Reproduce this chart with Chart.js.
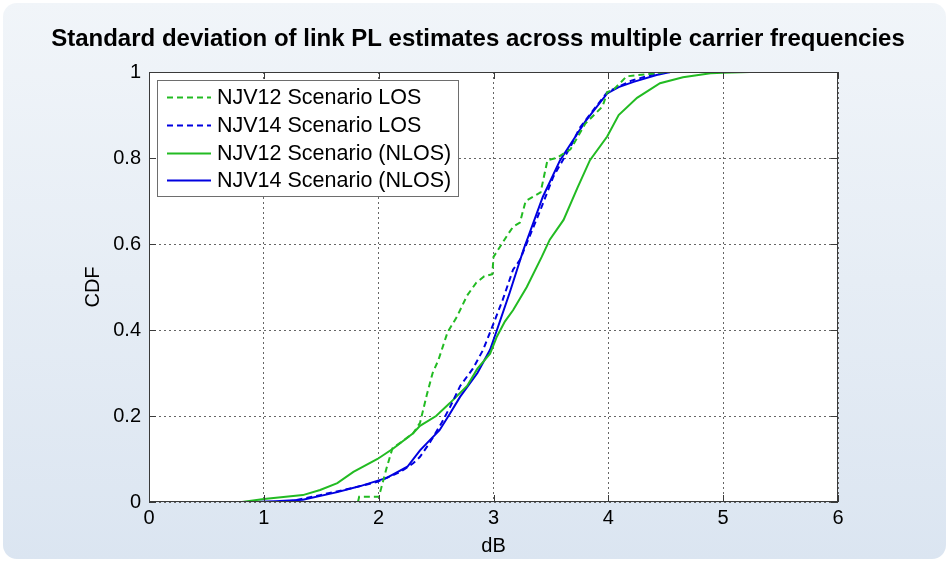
<!DOCTYPE html>
<html>
<head>
<meta charset="utf-8">
<script src="https://cdn.jsdelivr.net/npm/chart.js@4.4.1/dist/chart.umd.min.js"></script>
<style>
  html, body { margin: 0; padding: 0; background: #fff; }
  canvas { display: block; }
</style>
</head>
<body>
<canvas class="js-chart" width="949" height="562"></canvas>
<script>
const context = document.querySelector('.js-chart').getContext('2d');

const TITLE = 'Standard deviation of link PL estimates across multiple carrier frequencies';
const X_TICKS = [0, 1, 2, 3, 4, 5, 6];
const Y_TICKS = ['0', '0.2', '0.4', '0.6', '0.8', '1'];

// NJV12 Scenario LOS (green dashed)
const los12X = [1.82, 1.83, 2.0, 2.02, 2.07, 2.12, 2.2, 2.3, 2.36, 2.42, 2.47, 2.52, 2.6, 2.68, 2.77, 2.85, 2.92, 2.99, 3.0, 3.12, 3.17, 3.23, 3.28, 3.41, 3.47, 3.55, 3.67, 3.8, 3.95, 3.99, 4.05, 4.16, 4.45, 4.5];
const los12Y = [0, 0.012, 0.012, 0.03, 0.08, 0.125, 0.14, 0.16, 0.184, 0.25, 0.3, 0.33, 0.395, 0.43, 0.48, 0.51, 0.525, 0.53, 0.57, 0.62, 0.64, 0.65, 0.7, 0.72, 0.795, 0.8, 0.82, 0.88, 0.92, 0.953, 0.96, 0.99, 0.998, 1];

// NJV14 Scenario LOS (blue dashed)
const los14X = [1.2, 1.49, 1.78, 1.99, 2.19, 2.3, 2.36, 2.45, 2.55, 2.62, 2.71, 2.82, 2.91, 3.0, 3.08, 3.17, 3.23, 3.41, 3.52, 3.67, 3.75, 3.99, 4.2, 4.4, 4.54];
const los14Y = [0, 0.016, 0.033, 0.047, 0.07, 0.09, 0.105, 0.14, 0.185, 0.22, 0.27, 0.31, 0.354, 0.415, 0.47, 0.54, 0.563, 0.68, 0.756, 0.826, 0.87, 0.953, 0.98, 0.995, 1];

// NJV12 Scenario (NLOS) (green solid)
const nlos12X = [0.81, 1.0, 1.34, 1.49, 1.64, 1.78, 1.99, 2.13, 2.3, 2.36, 2.5, 2.62, 2.77, 2.86, 2.97, 3.03, 3.1, 3.17, 3.29, 3.42, 3.49, 3.61, 3.73, 3.84, 3.99, 4.09, 4.25, 4.45, 4.65, 4.89, 5.0, 5.23];
const nlos12Y = [0, 0.007, 0.016, 0.028, 0.044, 0.07, 0.1, 0.125, 0.16, 0.177, 0.2, 0.23, 0.27, 0.31, 0.345, 0.385, 0.42, 0.446, 0.5, 0.57, 0.61, 0.656, 0.73, 0.795, 0.85, 0.9, 0.94, 0.974, 0.988, 0.997, 0.998, 1];

// NJV14 Scenario (NLOS) (blue solid)
const nlos14X = [0.88, 1.1, 1.34, 1.64, 1.84, 2.07, 2.25, 2.36, 2.45, 2.53, 2.62, 2.71, 2.86, 2.97, 3.03, 3.14, 3.26, 3.43, 3.58, 3.69, 3.8, 3.99, 4.09, 4.22, 4.42, 4.54];
const nlos14Y = [0, 0.002, 0.005, 0.023, 0.037, 0.056, 0.082, 0.12, 0.145, 0.167, 0.205, 0.245, 0.3, 0.354, 0.4, 0.486, 0.586, 0.71, 0.795, 0.84, 0.885, 0.95, 0.965, 0.977, 0.993, 1];

const GREEN = '#22bb22';
const BLUE = '#0000e0';
const TICK_FONT = { family: "'Liberation Sans', Arial, sans-serif", size: 20 };

function toPoints(xs, ys) {
  return xs.map((x, i) => ({ x, y: ys[i] }));
}

const panelPlugin = {
  id: 'panel',
  beforeDraw(chart) {
    const { ctx, width, height, chartArea } = chart;
    ctx.save();
    const grad = ctx.createLinearGradient(0, 0, 0, height);
    grad.addColorStop(0, '#f1f5f9');
    grad.addColorStop(1, '#dbe5f1');
    ctx.fillStyle = grad;
    ctx.beginPath();
    ctx.roundRect(3, 3, width - 6, height - 6, 14);
    ctx.fill();
    ctx.fillStyle = '#fff';
    ctx.fillRect(chartArea.left, chartArea.top, chartArea.right - chartArea.left, chartArea.bottom - chartArea.top);

    // title, centred on the panel rather than on the axes
    ctx.fillStyle = '#000';
    ctx.font = "bold 24px 'Liberation Sans', Arial, sans-serif";
    ctx.textAlign = 'center';
    ctx.textBaseline = 'middle';
    ctx.fillText(TITLE, 478, 39);
    ctx.restore();
  },
  afterDraw(chart) {
    const { ctx, chartArea: a, scales } = chart;
    ctx.save();
    ctx.strokeStyle = '#3a3a3a';
    ctx.lineWidth = 1;
    ctx.strokeRect(a.left + 0.5, a.top + 0.5, a.right - a.left - 1, a.bottom - a.top - 1);
    ctx.beginPath();
    X_TICKS.forEach(v => {
      const px = Math.round(scales.x.getPixelForValue(v)) + 0.5;
      ctx.moveTo(px, a.bottom); ctx.lineTo(px, a.bottom - 7);
      ctx.moveTo(px, a.top); ctx.lineTo(px, a.top + 7);
    });
    Y_TICKS.forEach(v => {
      const py = Math.round(scales.y.getPixelForValue(Number(v))) + 0.5;
      ctx.moveTo(a.left, py); ctx.lineTo(a.left + 7, py);
      ctx.moveTo(a.right, py); ctx.lineTo(a.right - 7, py);
    });
    ctx.stroke();

    // legend box in the upper left of the axes
    const box = { x: 157.5, y: 80.5, w: 301, h: 116 };
    ctx.fillStyle = '#fff';
    ctx.fillRect(box.x, box.y, box.w, box.h);
    ctx.strokeStyle = '#6e6e6e';
    ctx.strokeRect(box.x, box.y, box.w, box.h);
    ctx.font = "21.5px 'Liberation Sans', Arial, sans-serif";
    ctx.textBaseline = 'middle';
    ctx.fillStyle = '#000';
    chart.data.datasets.forEach((ds, i) => {
      const y = 97 + i * 27.8;
      ctx.strokeStyle = ds.borderColor;
      ctx.lineWidth = 2;
      ctx.setLineDash(ds.borderDash || []);
      ctx.beginPath();
      ctx.moveTo(167, Math.round(y) + 0.5);
      ctx.lineTo(211, Math.round(y) + 0.5);
      ctx.stroke();
      ctx.setLineDash([]);
      ctx.fillText(ds.label, 217, y + 1);
    });
    ctx.restore();
  },
};

new Chart(context, {
  type: 'line',
  data: {
    datasets: [
      {
        label: 'NJV12 Scenario LOS',
        data: toPoints(los12X, los12Y),
        borderColor: GREEN,
        borderDash: [6, 4],
        borderWidth: 2,
      },
      {
        label: 'NJV14 Scenario LOS',
        data: toPoints(los14X, los14Y),
        borderColor: BLUE,
        borderDash: [6, 4],
        borderWidth: 2,
      },
      {
        label: 'NJV12 Scenario (NLOS)',
        data: toPoints(nlos12X, nlos12Y),
        borderColor: GREEN,
        borderWidth: 2,
      },
      {
        label: 'NJV14 Scenario (NLOS)',
        data: toPoints(nlos14X, nlos14Y),
        borderColor: BLUE,
        borderWidth: 2,
      },
    ],
  },
  options: {
    responsive: false,
    animation: false,
    layout: { padding: { left: 0, right: 111, top: 72, bottom: 0 } },
    elements: { point: { radius: 0 }, line: { tension: 0 } },
    plugins: {
      legend: { display: false },
      tooltip: { enabled: false },
      title: { display: false },
    },
    scales: {
      x: {
        type: 'linear',
        min: 0,
        max: 6,
        afterBuildTicks(scale) {
          scale.ticks = X_TICKS.map(value => ({ value }));
        },
        ticks: { font: TICK_FONT, color: '#000', padding: 4 },
        grid: { color: '#666', borderDash: [2, 3], drawTicks: false },
        border: { display: false, dash: [2, 3] },
        title: { display: true, text: 'dB', color: '#000', font: TICK_FONT, padding: { top: 0, bottom: 4 } },
        afterFit(scale) { scale.height = 60; },
      },
      y: {
        type: 'linear',
        min: 0,
        max: 1,
        afterBuildTicks(scale) {
          scale.ticks = Y_TICKS.map(t => ({ value: Number(t) }));
        },
        ticks: {
          font: TICK_FONT,
          color: '#000',
          padding: 8,
          callback(value) { return Y_TICKS.find(t => Number(t) === value); },
        },
        grid: { color: '#666', drawTicks: false },
        border: { display: false, dash: [2, 3] },
        title: { display: true, text: 'CDF', color: '#000', font: TICK_FONT, padding: { top: 81, bottom: 0 } },
        afterFit(scale) { scale.width = 149; },
      },
    },
  },
  plugins: [panelPlugin],
});
</script>
</body>
</html>
